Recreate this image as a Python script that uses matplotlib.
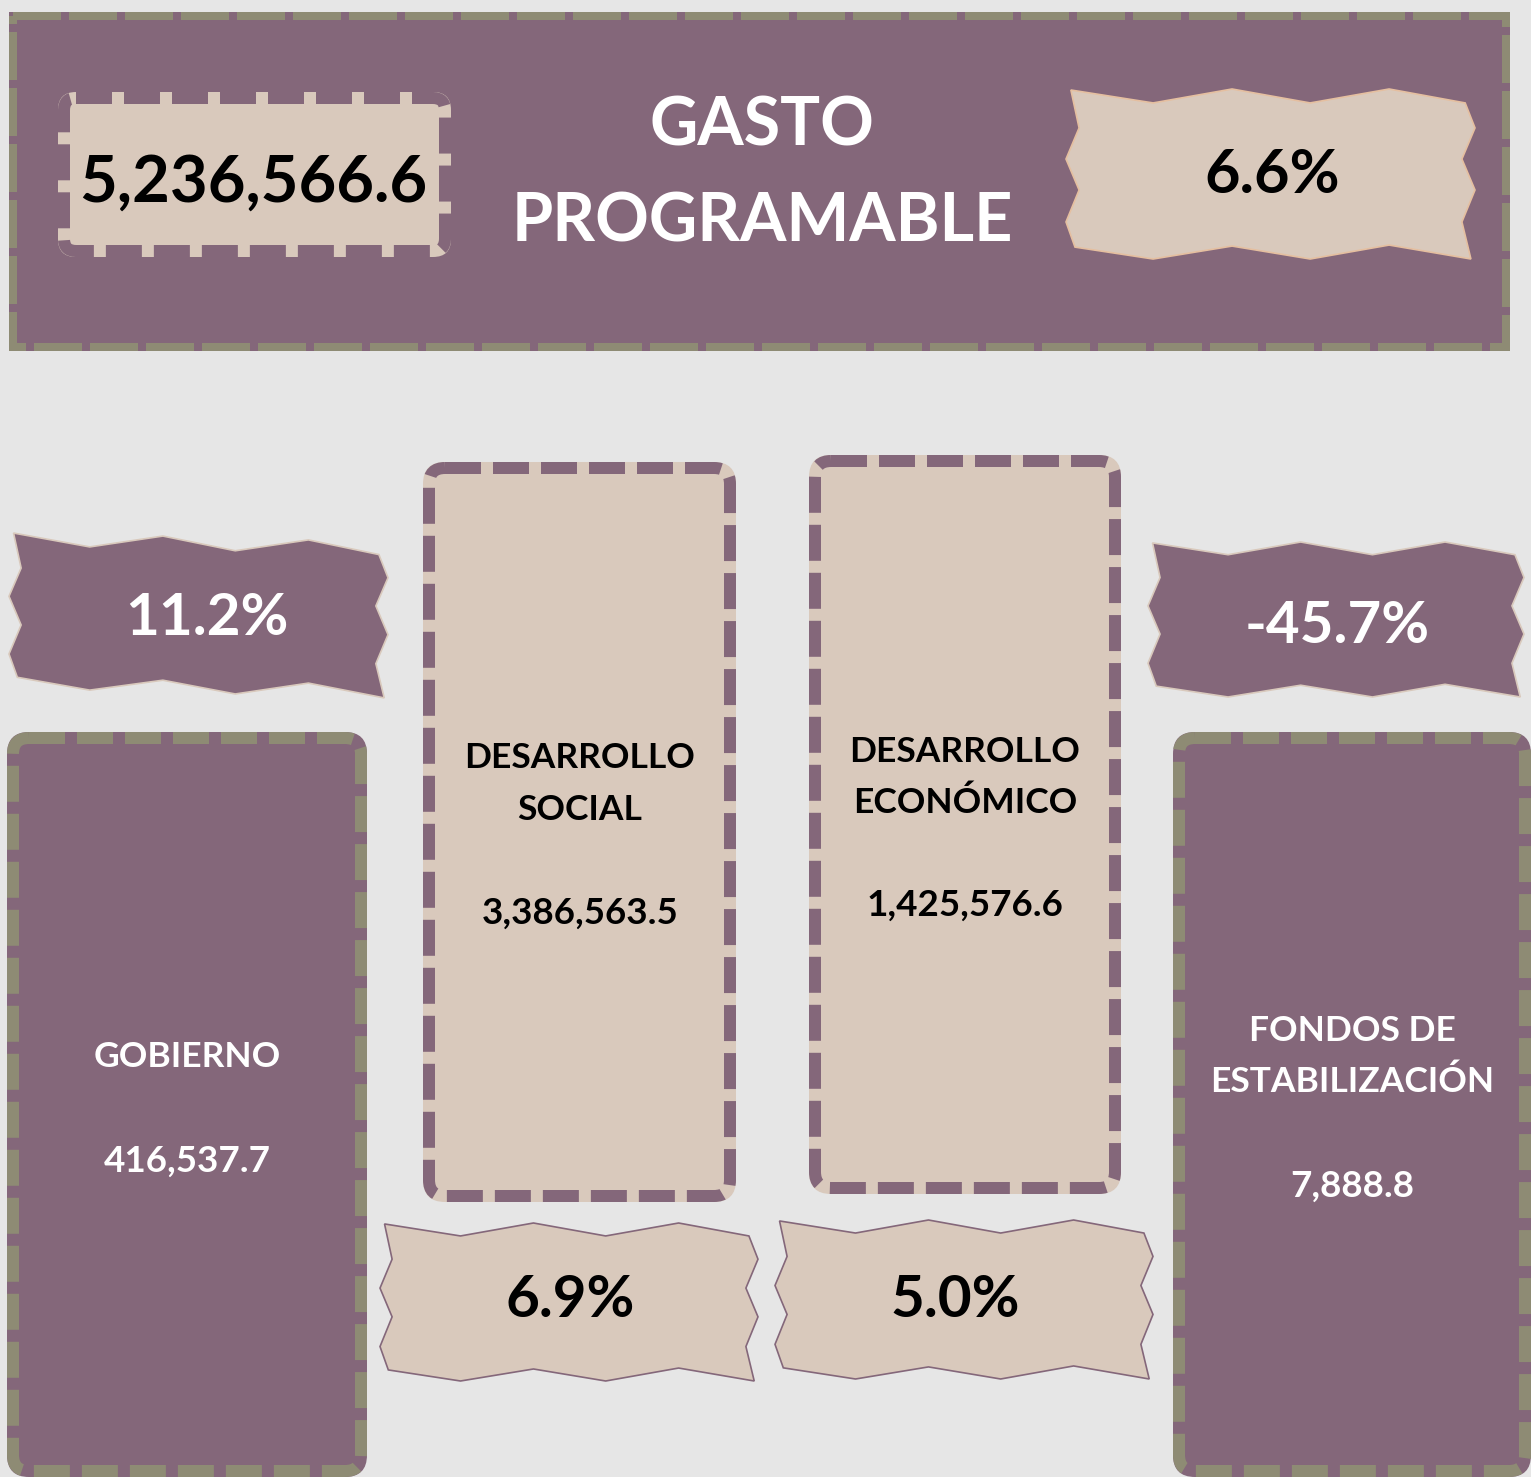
import matplotlib.pyplot as plt
from matplotlib.patches import Rectangle, FancyBboxPatch, Polygon

plt.rcParams['font.family'] = ['Lato', 'DejaVu Sans']
plt.rcParams['lines.scale_dashes'] = False

# datos
titulo = ["GASTO", "PROGRAMABLE"]
total = 5236566.6
total_var = 6.6
categorias = [["GOBIERNO"], ["DESARROLLO", "SOCIAL"],
              ["DESARROLLO", "ECONÓMICO"], ["FONDOS DE", "ESTABILIZACIÓN"]]
montos = [416537.7, 3386563.5, 1425576.6, 7888.8]
variaciones = [11.2, 6.9, 5.0, -45.7]

# colores
fondo = '#E6E6E6'
morado = '#84677A'
beige = '#D9C9BC'
olivo = '#8E8B74'

PX = 0.72  # pixel -> punto a 100 dpi

fig = plt.figure(figsize=(15.31, 14.77), dpi=100)
fig.patch.set_facecolor(fondo)
ax = fig.add_axes([0, 0, 1, 1])
ax.set_xlim(0, 1531)
ax.set_ylim(1477, 0)
ax.axis('off')

# forma de liston dentada
U = [0.012, 0.213, 0.406, 0.597, 0.790, 0.976, 1.0, 0.968, 1.0, 0.968, 0.990,
     0.790, 0.597, 0.406, 0.213, 0.022, 0.0, 0.032, 0.0, 0.032]
V = [0.006, 0.082, 0.0, 0.082, 0.0, 0.082, 0.229, 0.412, 0.594, 0.782, 1.0,
     0.918, 1.0, 0.924, 1.0, 0.930, 0.782, 0.594, 0.412, 0.229]

def liston(x0, y0, x1, y1, fc, ec, inclin=0):
    w, h = x1 - x0, y1 - y0
    pts = [(x0 + u*w, y0 + v*h + inclin*u) for u, v in zip(U, V)]
    ax.add_patch(Polygon(pts, closed=True, fc=fc, ec=ec, lw=1.2, zorder=3))

def caja(x0, y0, x1, y1, fc, ec, lw, dash, gap, r):
    m = lw / 2
    # relleno hasta el borde exterior, luego el trazo punteado encima
    ax.add_patch(FancyBboxPatch((x0 - m, y0 - m), x1 - x0 + lw, y1 - y0 + lw,
                 boxstyle="round,pad=0,rounding_size=%g" % (r + m),
                 fc=fc, ec='none', zorder=2))
    ax.add_patch(FancyBboxPatch((x0, y0), x1 - x0, y1 - y0,
                 boxstyle="round,pad=0,rounding_size=%g" % r,
                 fc='none', ec=ec, lw=lw*PX,
                 linestyle=(0, (dash*PX, gap*PX)), zorder=2))

def texto(x, y, s, size, color):
    ax.text(x, y, s, fontsize=size, fontweight='bold', color=color,
            ha='center', va='baseline', zorder=5)

# encabezado
ax.add_patch(Rectangle((9, 12), 1501, 339, fc=morado, ec='none', zorder=1))
ax.add_patch(Rectangle((13, 16), 1493, 331, fc='none', ec=olivo, lw=8*PX,
                       linestyle=(0, (48*PX, 8*PX)), zorder=1))
caja(64, 98, 445, 251, beige, morado, 12, 36, 12, 12)
texto(253, 202, f"{total:,.1f}", 47, 'black')
texto(762, 146, titulo[0], 48, 'white')
texto(762, 242, titulo[1], 48, 'white')
liston(1066, 89, 1475, 259, beige, '#E5BFA0')
texto(1272, 193, f"{total_var:.1f}%", 44, 'black')

# cajas de cada categoria
cajas = [(13, 738, 361, 1471), (429, 468, 730, 1196),
         (815, 461, 1115, 1188), (1179, 738, 1525, 1471)]
relleno = [morado, beige, beige, morado]
borde = [olivo, morado, morado, olivo]
color_txt = ['white', 'black', 'black', 'white']
centro_x = [187, 580, 965, 1352]
base_etq = [[1067], [768, 820], [762, 813], [1041, 1092]]
base_monto = [1172, 924, 916, 1197]

listones = [(9, 532, 388, 688, 10), (380, 1223, 758, 1381, 0),
            (775, 1220, 1153, 1379, 0), (1148, 542, 1524, 697, 0)]
liston_fc = [morado, beige, beige, morado]
liston_ec = [beige, morado, morado, beige]
liston_txt = ['white', 'black', 'black', 'white']
var_x = [207, 570, 955, 1337]
var_y = [635, 1317, 1317, 643]

for i in range(len(categorias)):
    x0, y0, x1, y1 = cajas[i]
    caja(x0, y0, x1, y1, relleno[i], borde[i], 12, 36, 12, 16)
    for linea, yb in zip(categorias[i], base_etq[i]):
        texto(centro_x[i], yb, linea, 25.5, color_txt[i])
    texto(centro_x[i], base_monto[i], f"{montos[i]:,.1f}", 26.5, color_txt[i])
    lx0, ly0, lx1, ly1, inc = listones[i]
    liston(lx0, ly0, lx1, ly1, liston_fc[i], liston_ec[i], inc)
    texto(var_x[i], var_y[i], f"{variaciones[i]:.1f}%", 42, liston_txt[i])

fig.savefig('out.png', dpi=100, facecolor=fondo)
